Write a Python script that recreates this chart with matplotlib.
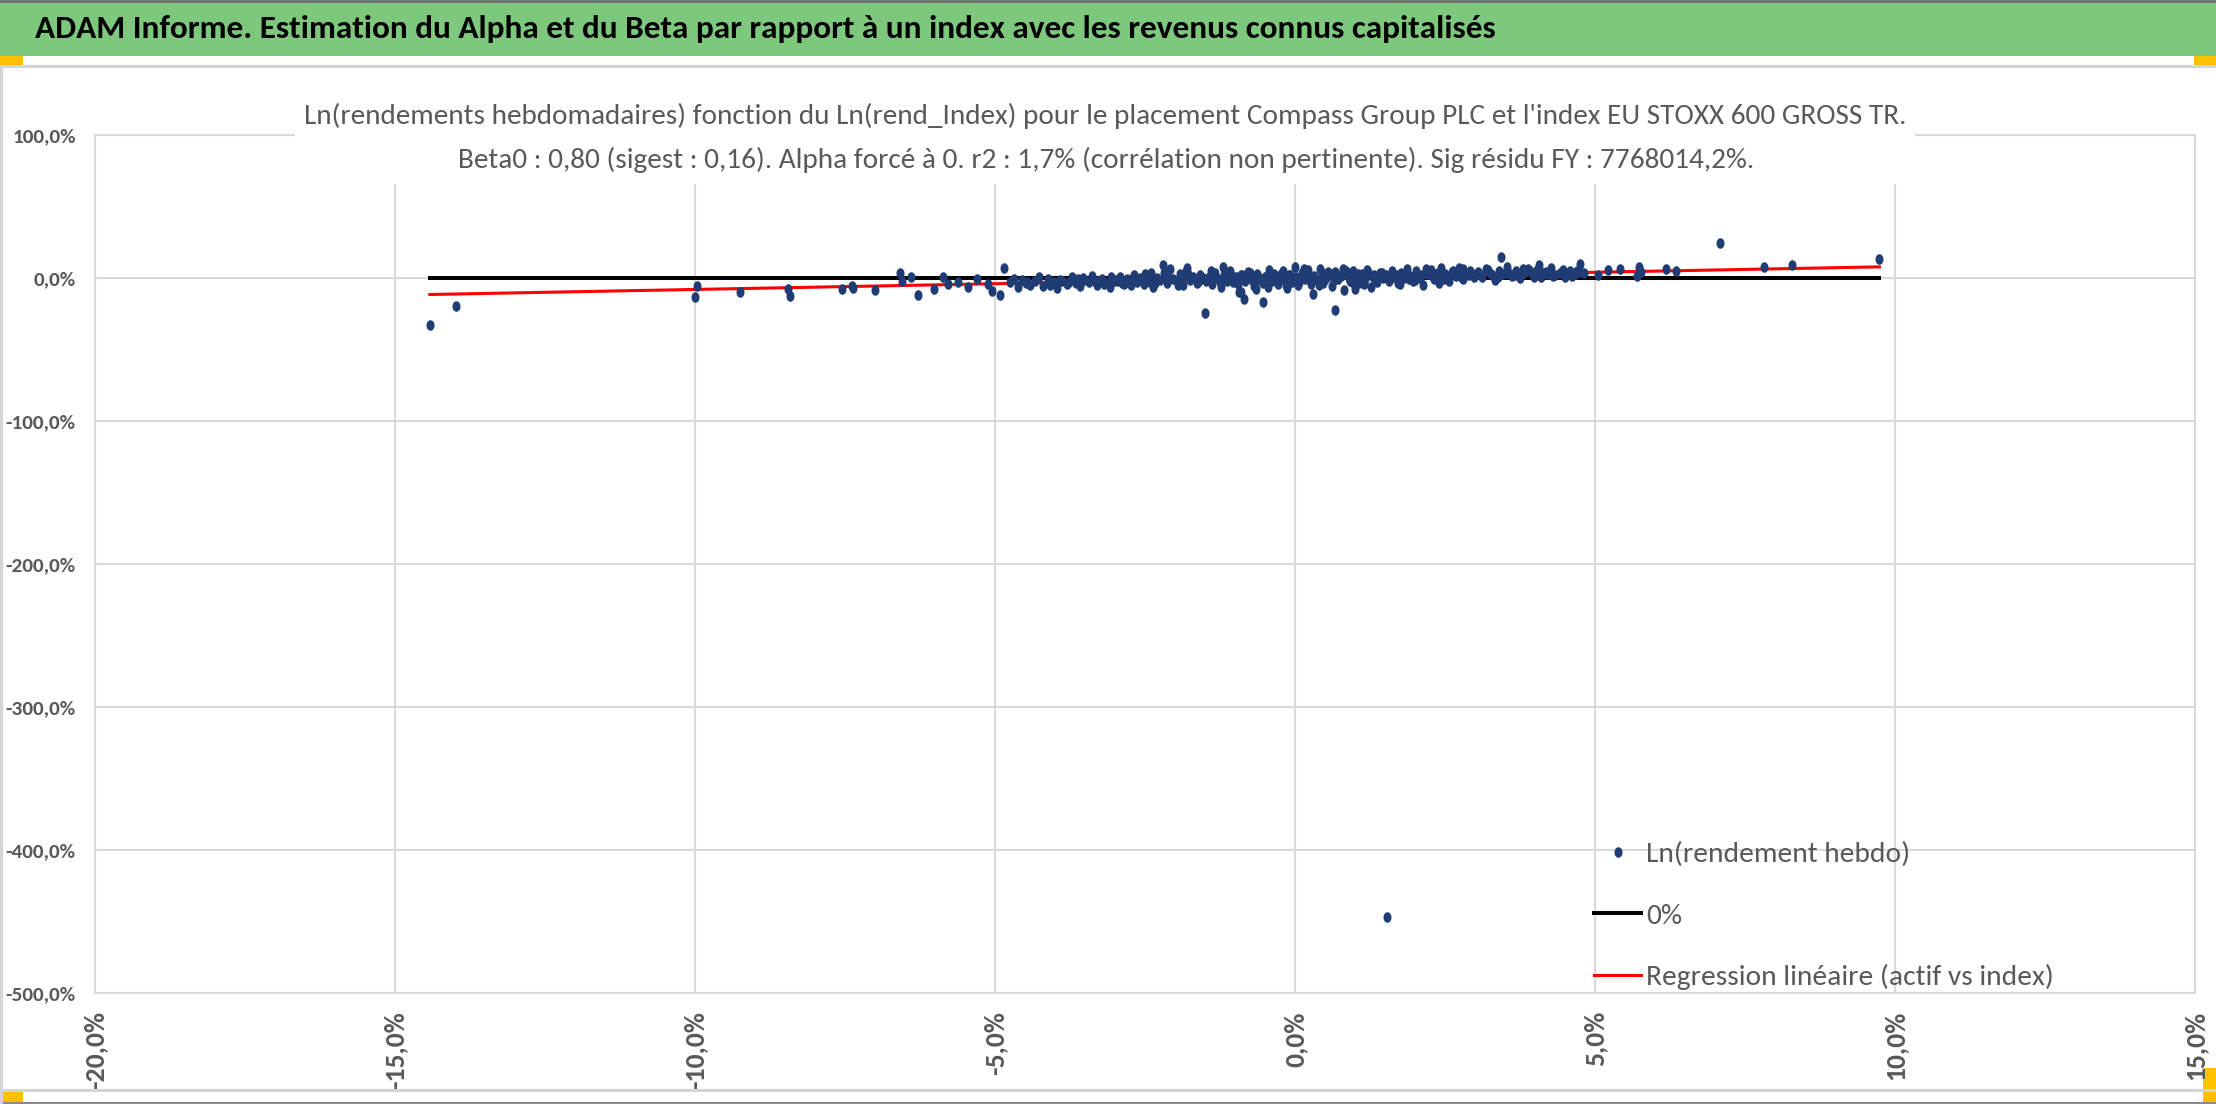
import numpy as np
import matplotlib
matplotlib.use("Agg")
import matplotlib.pyplot as plt
from matplotlib import font_manager
from matplotlib.lines import Line2D
from matplotlib.patches import Rectangle
from matplotlib.path import Path
from matplotlib.ticker import FixedLocator, FuncFormatter

# weekly log returns, in %: index (x) vs Compass Group PLC (y)
left_tail_x = [-14.42, -13.98, -10.00, -9.97, -9.25, -8.45, -8.42, -7.55, -7.38, -7.36,
               -7.00, -6.58, -6.55, -6.40, -6.28, -6.02, -5.86, -5.78, -5.62, -5.45,
               -5.30, -5.12, -5.05, -4.92, -4.85]
left_tail_y = [-32.6, -19.7, -13.0, -5.5, -10.0, -7.5, -12.5, -8.0, -5.5, -7.0,
               -8.5, 3.5, -2.0, 1.0, -12.0, -8.0, 0.5, -4.0, -2.5, -6.0,
               -1.0, -4.5, -9.0, -12.0, 7.0]

core_x = [-4.75, -4.62, -4.55, -4.41, -4.33, -4.20, -4.12, -4.05, -3.96, -3.88,
          -3.80, -3.72, -3.65, -3.58, -3.51, -3.44, -3.38, -3.30, -3.22, -3.15,
          -3.09, -3.02, -2.96, -2.91, -2.85, -2.80, -2.74, -2.69, -2.63, -2.58,
          -2.52, -2.47, -2.41, -2.36, -2.30, -2.25, -2.19, -2.14, -2.08, -2.03,
          -1.97, -1.92, -1.86, -1.81, -1.75, -1.70, -1.64, -1.59, -1.53, -1.48,
          -1.43, -1.38, -1.33, -1.28, -1.23, -1.18, -1.13, -1.08, -1.03, -0.98,
          -0.93, -0.88, -0.83, -0.78, -0.73, -0.68, -0.63, -0.58, -0.53, -0.48,
          -0.43, -0.38, -0.33, -0.28, -0.23, -0.18, -0.13, -0.08, -0.03, 0.02,
          0.07, 0.12, 0.17, 0.22, 0.27, 0.32, 0.37, 0.42, 0.47, 0.52,
          0.57, 0.62, 0.67, 0.72, 0.77, 0.82, 0.87, 0.92, 0.97, 1.02,
          1.07, 1.12, 1.17, 1.22, 1.27, 1.32, 1.37, 1.42, 1.47, 1.52,
          1.57, 1.62, 1.67, 1.72, 1.77, 1.82, 1.87, 1.92, 1.97, 2.02,
          2.08, 2.14, 2.20, 2.26, 2.32, 2.38, 2.44, 2.50, 2.56, 2.62,
          2.68, 2.74, 2.80, 2.86, 2.92, 2.98, 3.05, 3.12, 3.19, 3.26,
          3.33, 3.40, 3.47, 3.54, 3.61, 3.68, 3.75, 3.82, 3.89, 3.96,
          4.03, 4.10, 4.18, 4.26, 4.34, 4.42, 4.50, 4.58, 4.66, 4.74,
          4.82, -2.72, -2.44, -2.16, -1.88, -1.62, -1.36, -1.10, -0.90, -0.70,
          -0.50, -0.30, -0.10, 0.10, 0.30, 0.50, 0.70, 0.90, 1.10, 1.30,
          1.50, 1.70, 1.90, 2.10, 2.30, 2.50, 2.70, 2.90, -3.62, -3.26,
          -2.98, 3.28, 3.58, 3.92, -4.46, -4.02, 4.22, 4.56, -1.50, -0.85,
          -0.54, 0.66, 3.44, 4.07, 4.75, -2.20, -1.80, -1.20, 0.00, 2.80,
          -0.90, 0.30, 1.00]
core_y = [-3.0, -6.5, -1.5, -4.8, -2.2, -5.5, -0.5, -3.8, -6.8, -2.0,
          -4.2, 0.8, -3.5, -5.8, -1.2, -2.8, 1.5, -4.6, -0.8, -3.2,
          -6.0, -1.8, -2.4, 0.5, -4.0, -1.0, -5.2, 2.0, -3.0, -0.2,
          -4.4, 1.2, -2.6, -6.2, 0.0, -1.6, 3.4, -3.8, 6.5, -0.6,
          -2.2, 2.6, -4.8, 5.2, -1.4, 0.9, -3.4, 1.8, -0.3, -2.0,
          1.0, -4.2, 3.2, -0.8, -6.0, 2.2, -1.8, 5.0, -3.0, 0.4,
          -9.5, 1.8, -2.4, 4.2, -0.6, -5.4, 2.8, -1.2, -3.6, 0.6,
          5.8, -2.0, 1.4, -4.4, 3.0, -0.4, -7.0, 2.0, -1.6, 1.0,
          -2.6, 3.6, -0.6, 5.4, -4.0, 1.6, -1.4, 6.0, -3.2, 0.2,
          2.4, -5.6, 4.4, -0.8, 1.2, -8.5, 3.0, -2.0, 5.2, 0.4,
          -3.8, 2.6, -1.0, 4.0, -6.4, 1.8, -2.8, 3.2, 0.0, 2.2,
          -1.8, 4.6, 0.6, -3.4, 3.8, -0.2, 6.2, 1.4, -2.4, 4.8,
          0.2, -4.6, 2.8, 5.6, -1.0, 3.4, 7.0, 0.8, -2.2, 4.0,
          1.6, 6.8, -0.6, 3.0, 5.0, 1.0, 4.2, 0.4, 6.4, 2.6,
          -1.4, 5.2, 3.0, 7.6, 1.2, 4.6, -0.2, 3.6, 6.0, 2.0,
          5.4, 0.8, 4.4, 7.2, 2.4, 3.8, 1.0, 5.0, 2.8, 4.0,
          3.2, -0.4, -2.0, 1.4, -0.8, -2.8, 0.2, -0.6, 2.4, -1.8,
          0.8, -0.2, 1.8, -1.0, 0.6, -0.4, 2.0, 0.2, -1.4, 1.0,
          0.4, 1.8, -0.4, 2.2, 1.0, 3.0, 2.6, 2.0, -1.0, -2.2,
          -1.4, 2.0, 2.6, 4.8, -2.6, -3.0, 3.0, 3.6, -24.7, -15.0,
          -17.0, -22.7, 15.0, 9.0, 10.0, 9.0, 7.0, 7.5, 8.0, 6.0,
          -10.0, -11.0, -8.0]

extra_x = [-4.68, -4.48, -4.26, -4.08, -3.92, -3.76, -3.54, -3.34, -3.18, -3.06,
           -2.88, -2.66, -2.50, -2.33, -2.12, -1.95, -1.78, -1.57, -1.40, -1.25,
           -1.05, -0.95, -0.75, -0.60, -0.45, -0.35, -0.20, -0.05, 0.05, 0.15,
           0.25, 0.40, 0.55, 0.65, 0.80, 0.95, 1.05, 1.20, 1.35, 1.45,
           1.60, 1.75, 1.85, 2.00, 2.18, 2.35, 2.48, 2.64, 2.78, 2.94,
           3.10, 3.22, 3.38, 3.52, 3.66, 3.80, 3.98, 4.14, 4.30, 4.46,
           4.62, 4.70, -0.15, 0.45, 1.15, -1.15, 2.40, -2.40, 0.85, -0.65]
extra_y = [-1.0, -3.2, 0.6, -5.0, -1.6, -3.0, 0.2, -2.0, -4.2, 1.0,
           -3.6, -1.2, 2.6, -3.2, 0.8, -4.6, 3.0, -1.0, 4.6, -2.6,
           1.6, -4.0, 3.6, -0.2, -6.4, 2.6, 4.8, -3.0, -4.6, 6.6,
           0.8, -5.2, 4.0, -1.6, 6.0, -3.0, 2.8, 5.8, -1.2, 3.6,
           0.0, -4.0, 2.4, -1.6, 6.0, 3.0, -0.8, 4.6, 0.0, 3.8,
           2.2, 5.8, 0.6, 3.6, 2.0, 6.2, 0.8, 3.4, 1.6, 5.6,
           1.2, 4.8, -5.0, 3.8, -4.2, 4.4, -3.6, 3.8, 4.6, -7.6]

right_tail_x = [5.05, 5.22, 5.41, 5.70, 5.74, 5.76, 6.19, 6.35, 7.08, 7.81, 8.28, 9.74, 1.53]
right_tail_y = [2.0, 5.5, 6.5, 1.5, 8.0, 4.0, 6.0, 5.0, 24.7, 8.0, 9.0, 13.0, -447.0]

beta0 = 0.80

x_ticks = [-20, -15, -10, -5, 0, 5, 10, 15]
y_ticks = [100, 0, -100, -200, -300, -400, -500]

header = "ADAM Informe. Estimation du Alpha et du Beta par rapport à un index avec les revenus connus capitalisés"
title_1 = ("Ln(rendements hebdomadaires) fonction du Ln(rend_Index) pour le placement "
           "Compass Group PLC et l'index EU STOXX 600 GROSS TR.")
title_2 = ("Beta0 : 0,80 (sigest : 0,16). Alpha forcé à 0. r2 : 1,7% "
           "(corrélation non pertinente). Sig résidu FY : 7768014,2%.")
labels = ["Ln(rendement hebdo)", "0%", "Regression linéaire (actif vs index)"]

W, H = 2216, 1104
GREY_TXT = "#595959"
GRID = "#d9d9d9"
NAVY = "#1f3c74"
YELLOW = "#ffc000"


def pick_family():
    names = {f.name for f in font_manager.fontManager.ttflist}
    for cand in ["Carlito", "Liberation Sans Narrow", "Roboto Condensed",
                 "Open Sans Condensed", "Lato", "Roboto"]:
        if cand in names:
            return cand
    return "DejaVu Sans"


FAMILY = pick_family()
plt.rcParams["font.family"] = [FAMILY, "DejaVu Sans"]


def fx(px):
    return px / W


def fy(py):
    return 1 - py / H


fig = plt.figure(figsize=(W / 100, H / 100), dpi=100)
renderer = fig.canvas.get_renderer()


def fitted_size(s, target, weight="normal", base=20.0):
    t = fig.text(0, 0, s, fontsize=base, fontweight=weight)
    w = t.get_window_extent(renderer).width
    t.remove()
    return base * target / w


# frame decorations (Excel sheet look)
fig.patches.append(Rectangle((0, fy(56)), 1, 56 / H, transform=fig.transFigure,
                             facecolor="#7ec87e", edgecolor="none", zorder=0))
fig.lines.append(Line2D([0, 1], [fy(1), fy(1)], transform=fig.transFigure,
                        color="#6f6f6f", lw=2))
fig.lines.append(Line2D([0, 1], [fy(66), fy(66)], transform=fig.transFigure,
                        color="#d4d4d4", lw=2.2))
fig.lines.append(Line2D([0, 1], [fy(1090), fy(1090)], transform=fig.transFigure,
                        color="#d4d4d4", lw=2.2))
fig.lines.append(Line2D([0, 1], [fy(1103), fy(1103)], transform=fig.transFigure,
                        color="#8a8a8a", lw=1.5))
fig.lines.append(Line2D([fx(1), fx(1)], [fy(66), fy(1104)], transform=fig.transFigure,
                        color="#d4d4d4", lw=2.2))
for x0, y0, w, h in [(0, 56, 23, 10), (2194, 56, 22, 11), (0, 1091, 23, 12), (2203, 1068, 13, 36)]:
    fig.patches.append(Rectangle((fx(x0), fy(y0 + h)), w / W, h / H, transform=fig.transFigure,
                                 facecolor=YELLOW, edgecolor="none", zorder=-1))

fig.text(fx(35), fy(29), header, fontsize=fitted_size(header, 1460, "bold"),
         fontweight="bold", color="black", va="center", ha="left")

ax = fig.add_axes([fx(95), fy(993), (2195 - 95) / W, (993 - 135) / H])
ax.set_xlim(x_ticks[0], x_ticks[-1])
ax.set_ylim(y_ticks[-1], y_ticks[0])
ax.xaxis.set_major_locator(FixedLocator(x_ticks))
ax.yaxis.set_major_locator(FixedLocator(y_ticks))
pct = FuncFormatter(lambda v, _: f"{v:.1f}%".replace(".", ","))
ax.xaxis.set_major_formatter(pct)
ax.yaxis.set_major_formatter(pct)
ax.grid(True, color=GRID, lw=1.5)
ax.set_axisbelow(True)
for sp in ax.spines.values():
    sp.set_color(GRID)
    sp.set_linewidth(1.5)

ytick_fs = fitted_size("-300,0%", 71, "bold")
xtick_fs = fitted_size("-15,0%", 78, "bold")
ax.tick_params(axis="y", length=0, pad=14, labelsize=ytick_fs, labelcolor=GREY_TXT)
ax.tick_params(axis="x", length=0, pad=13, labelsize=xtick_fs, labelcolor=GREY_TXT,
               labelrotation=90)
for lab in ax.get_xticklabels() + ax.get_yticklabels():
    lab.set_fontweight("bold")

xs = np.array(left_tail_x + core_x + extra_x + right_tail_x)
ys = np.array(left_tail_y + core_y + extra_y + right_tail_y)

t = np.linspace(0, 2 * np.pi, 40)
ellipse = Path(np.column_stack([0.76 * np.cos(t), np.sin(t)]), closed=True)

x_fit = np.array([xs.min(), xs.max()])
ax.plot(xs, ys, ls="none", marker=ellipse, ms=7.6, color=NAVY, mew=0, zorder=4, label=labels[0])
ax.plot(x_fit, np.zeros_like(x_fit), color="black", lw=2.9, zorder=3, label=labels[1])
ax.plot(x_fit, beta0 * x_fit, color="#ff0000", lw=2.2, zorder=3, label=labels[2])

# white box behind the chart title
fig.patches.append(Rectangle((fx(295), fy(184)), 1620 / W, 90 / H, transform=fig.transFigure,
                             facecolor="white", edgecolor="none", zorder=2))
title_fs = fitted_size(title_1, 1601)
fig.text(fx(1105), fy(116), title_1, fontsize=title_fs, color=GREY_TXT, ha="center", va="center", zorder=3)
fig.text(fx(1106), fy(160), title_2, fontsize=title_fs, color=GREY_TXT, ha="center", va="center", zorder=3)

leg_fs = fitted_size(labels[2], 406)
leg_px = leg_fs * 100 / 72
leg = ax.legend(loc="upper left", bbox_to_anchor=(fx(1594), fy(861 - 0.65 * leg_px)),
                bbox_transform=fig.transFigure, frameon=False, fontsize=leg_fs,
                borderpad=0, borderaxespad=0, handlelength=47 / leg_px,
                handletextpad=5 / leg_px, labelspacing=(71 - 1.2 * leg_px) / leg_px)
for txt in leg.get_texts():
    txt.set_color(GREY_TXT)

fig.savefig("out.png", dpi=100)
